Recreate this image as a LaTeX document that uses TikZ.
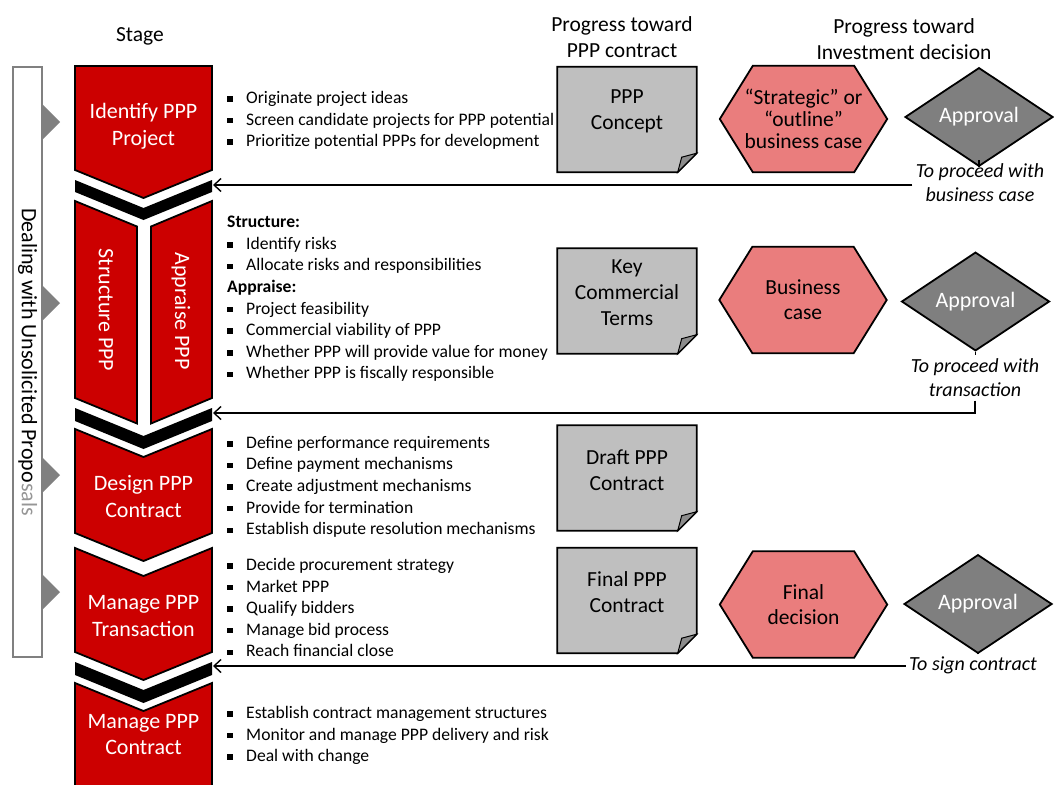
\documentclass[tikz,border=0pt]{standalone}
\usepackage{fontspec}
\setmainfont{Carlito}
\usetikzlibrary{arrows.meta,shapes.geometric,positioning,calc}

\definecolor{stagered}{RGB}{204,0,0}
\definecolor{sheetgray}{RGB}{191,191,191}
\definecolor{foldgray}{RGB}{140,140,140}
\definecolor{casepink}{RGB}{234,125,125}
\definecolor{gategray}{RGB}{127,127,127}
\definecolor{sidegray}{RGB}{128,128,128}
\definecolor{fadegray}{RGB}{150,150,150}

\newcommand{\sqb}{\makebox[19pt][l]{\rule[0.1em]{5.5pt}{5.5pt}}}

% paper sheet with a folded corner
\newcommand{\sheet}[3]{%
  \node[sheetbox] (#1) at (#2) {};
  \draw[sheetline] (#1.north west) -- (#1.north east) -- ([yshift=19pt]#1.south east)
    -- ([xshift=-19pt]#1.south east) -- (#1.south west) -- cycle;
  \draw[foldline] ([yshift=19pt]#1.south east) -- ([xshift=-19pt]#1.south east)
    -- ([xshift=-15pt,yshift=15pt]#1.south east) -- cycle;
  \node[sheettext] (#1t) at ([yshift=8pt]#1.center) {#3};}

% business case hexagon
\newcommand{\hexcase}[3]{%
  \node[hexbox] (#1) at (#2) {};
  \draw[hexline] (#1.north west) -- (#1.north east) -- ([xshift=33pt]#1.east)
    -- (#1.south east) -- (#1.south west) -- ([xshift=-33pt]#1.west) -- cycle;
  \node[hextext] (#1t) at (#1.center) {#3};}

\begin{document}
\begin{tikzpicture}[
    x=1pt, y=1pt,
    stage/.style={fill=stagered, draw=black, line width=1.8pt},
    band/.style={fill=black},
    stagetext/.style={text=white, align=center, font=\fontsize{22}{26.5}\selectfont},
    head/.style={align=center, font=\fontsize{21.5}{26}\selectfont},
    points/.style={anchor=north west, align=left, inner sep=0pt,
                   font=\fontsize{17.6}{21.6}\selectfont},
    sheetbox/.style={minimum width=139, minimum height=105, inner sep=0pt},
    sheetline/.style={fill=sheetgray, draw=black, line width=1.8pt, line join=miter},
    foldline/.style={fill=foldgray, draw=black, line width=1pt},
    sheettext/.style={align=center, font=\fontsize{21.5}{26}\selectfont},
    hexbox/.style={minimum width=101, minimum height=106, inner sep=0pt},
    hexline/.style={fill=casepink, draw=black, line width=1.8pt},
    hextext/.style={align=center, font=\fontsize{21.5}{25}\selectfont},
    gate/.style={diamond, fill=gategray, draw=black, line width=1.8pt, inner sep=0pt,
                 minimum width=148, minimum height=71, text=white,
                 font=\fontsize{22}{26}\selectfont},
    cond/.style={align=center, font=\itshape\fontsize{20}{24}\selectfont},
    sidebar/.style={draw=sidegray, fill=white, line width=2.5pt, rotate=-90,
                    minimum width=590, minimum height=29, inner sep=0pt,
                    font=\fontsize{22}{26}\selectfont},
    back/.style={-{Straight Barb[length=7pt,width=13pt]}, line width=1.4pt},
    stub/.style={line width=1.4pt}
  ]
  \useasboundingbox (0,0) rectangle (1054,-784);

  % headings
  \node[head] (hstage) at (140,-36) {Stage};
  \node[head] (hcon) at (622,-37) {Progress toward\\PPP contract};
  \node[head] (hinv) at (904,-39) {Progress toward\\Investment decision};

  % unsolicited proposals bar
  \node[sidebar] (deal) at (27.5,-362) {Dealing with Unsolicited Propo\textcolor{fadegray}{sals}};
  \foreach \y in {122,303,475,592}
    \fill[sidegray] (42,-\y+18) -- (60,-\y) -- (42,-\y-18) -- cycle;

  % stage chevrons
  \draw[stage] (75,-66) -- (212,-66) -- (212,-170) -- (143.5,-198) -- (75,-170) -- cycle;
  \fill[band] (75,-180) -- (143.5,-208) -- (212,-180) -- (212,-192) -- (143.5,-220) -- (75,-192) -- cycle;
  \draw[stage] (75,-201) -- (137,-226.5) -- (137,-423.5) -- (75,-398) -- cycle;
  \draw[stage] (151,-226.5) -- (212,-201) -- (212,-398) -- (151,-423.5) -- cycle;
  \fill[band] (75,-408) -- (143.5,-436) -- (212,-408) -- (212,-421) -- (143.5,-449) -- (75,-421) -- cycle;
  \draw[stage] (75,-429) -- (143.5,-457) -- (212,-429) -- (212,-533) -- (143.5,-561) -- (75,-533) -- cycle;
  \draw[stage] (75,-548) -- (143.5,-576) -- (212,-548) -- (212,-652) -- (143.5,-680) -- (75,-652) -- cycle;
  \fill[band] (75,-662) -- (143.5,-690) -- (212,-662) -- (212,-675) -- (143.5,-703) -- (75,-675) -- cycle;
  \draw[stage] (75,-683) -- (143.5,-711) -- (212,-683) -- (212,-800) -- (75,-800) -- cycle;

  \node[stagetext] (s1) at (143.5,-126) {Identify PPP\\Project};
  \node[stagetext, rotate=-90] (s2a) at (106,-310) {Structure PPP};
  \node[stagetext, rotate=-90] (s2b) at (181,-311) {Appraise PPP};
  \node[stagetext] (s3) at (143.5,-496.5) {Design PPP\\Contract};
  \node[stagetext] (s4) at (143.5,-616) {Manage PPP\\Transaction};
  \node[stagetext] (s5) at (143.5,-734.5) {Manage PPP\\Contract};

  % activities
  \node[points] (l1) at (227,-91) {\sqb Originate project ideas\\
    \sqb Screen candidate projects for PPP potential\\
    \sqb Prioritize potential PPPs for development};
  \node[points] (l2) at (227,-216) {\textbf{Structure:}\\
    \sqb Identify risks\\
    \sqb Allocate risks and responsibilities\\
    \textbf{Appraise:}\\
    \sqb Project feasibility\\
    \sqb Commercial viability of PPP\\
    \sqb Whether PPP will provide value for money\\
    \sqb Whether PPP is fiscally responsible};
  \node[points] (l3) at (227,-436) {\sqb Define performance requirements\\
    \sqb Define payment mechanisms\\
    \sqb Create adjustment mechanisms\\
    \sqb Provide for termination\\
    \sqb Establish dispute resolution mechanisms};
  \node[points] (l4) at (227,-558) {\sqb Decide procurement strategy\\
    \sqb Market PPP\\
    \sqb Qualify bidders\\
    \sqb Manage bid process\\
    \sqb Reach financial close};
  \node[points] (l5) at (227,-706) {\sqb Establish contract management structures\\
    \sqb Monitor and manage PPP delivery and risk\\
    \sqb Deal with change};

  % contract documents
  \sheet{d1}{627,-119.5}{PPP\\Concept}
  \sheet{d2}{627,-301}{Key\\Commercial\\Terms}
  \sheet{d3}{627,-478}{Draft PPP\\Contract}
  \sheet{d4}{627,-600.5}{Final PPP\\Contract}

  % business cases
  \hexcase{h1}{803.5,-119}{“Strategic” or\\[-3pt]“outline”\\[-3pt]business case}
  \hexcase{h2}{803,-300}{Business\\case}
  \hexcase{h3}{803.5,-604.5}{Final\\decision}

  % approvals
  \node[gate] (a1) at (979,-117) {Approval};
  \node[gate] (a2) at (975.5,-301.5) {Approval};
  \node[gate] (a3) at (978,-604) {Approval};

  \node[cond] (c1) at (980,-183) {To proceed with\\business case};
  \node[cond] (c2) at (975,-378) {To proceed with\\transaction};
  \node[cond] (c3) at (973,-665) {To sign contract};

  \coordinate (in1) at (213,-185);
  \coordinate (in2) at (213,-413);
  \coordinate (in3) at (213,-666);

  \draw[stub] (a1.south) -- (a1.south |- c1.north);
  \draw[stub] (a2.south) -- (a2.south |- c2.north);
  \draw[stub] (a3.south) -- (a3.south |- c3.north);

  \draw[back] (c1.west |- in1) -- (in1);
  \draw[back] (c2.south) |- (in2);
  \draw[back] (c3.west |- in3) -- (in3);
\end{tikzpicture}
\end{document}
